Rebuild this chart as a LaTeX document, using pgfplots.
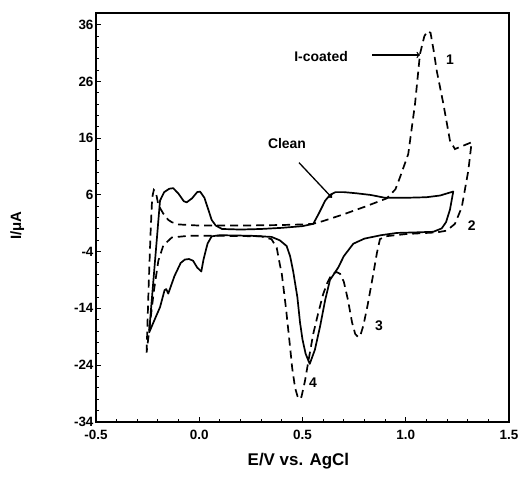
\documentclass[border=0pt]{standalone}
\usepackage{pgfplots}
\pgfplotsset{compat=1.18}
\usepackage{fontspec}
\setmainfont{Liberation Sans}
\begin{document}
\begin{tikzpicture}[x=1bp,y=1bp]
\useasboundingbox (-96,-55) rectangle (423,422);
\begin{axis}[
  at={(0,0)}, anchor=south west,
  scale only axis, width=413bp, height=409bp,
  xmin=-0.5, xmax=1.5, ymin=-34.05, ymax=38.1,
  xtick={-0.5,0,0.5,1,1.5},
  ytick={-34,-24,-14,-4,6,16,26,36},
  minor x tick num=4, minor y tick num=4,
  xtick pos=bottom, ytick pos=left,
  tick align=inside,
  major tick length=4.5bp, minor tick length=3bp,
  axis line style={line width=1.5bp},
  every tick/.style={line width=1bp, black},
  /pgf/number format/assume math mode=true,
  xticklabel style={font=\bfseries\fontsize{13.5}{15}\selectfont, yshift=-4.5bp, /pgf/number format/.cd, fixed, fixed zerofill, precision=1},
  yticklabel style={font=\bfseries\fontsize{13.5}{15}\selectfont, xshift=1bp},
  xlabel={E/V vs. AgCl},
  xlabel style={font=\bfseries\fontsize{17}{19}\selectfont, at={(axis description cs:0.49,0)}, anchor=center, yshift=-39bp},
  ylabel={I/μA},
  ylabel style={font=\bfseries\fontsize{15}{17}\selectfont, at={(axis description cs:-0.191,0.48)}, anchor=center},
  clip=false,
]
% Clean (solid)
\addplot[black, line width=1.7bp, line join=round] coordinates {
(-0.243,-18.3) (-0.215,-6) (-0.19,5.0) (-0.17,6.5) (-0.145,7.1) (-0.126,7.2)
(-0.10,6.2) (-0.075,4.9) (-0.061,4.7) (-0.035,5.4) (-0.01,6.5) (0.004,6.6)
(0.025,5.5) (0.045,3.3) (0.06,1.6) (0.08,0.6) (0.11,0.0) (0.20,-0.1)
(0.30,0.0) (0.40,0.2) (0.50,0.5) (0.552,0.9) (0.58,2.8) (0.61,5.0)
(0.633,6.0) (0.66,6.5) (0.70,6.5) (0.76,6.3) (0.83,6.0) (0.90,5.5)
(1.00,5.5) (1.10,5.6) (1.166,5.9) (1.23,6.6) (1.214,3.4) (1.195,1.2)
(1.174,0.1) (1.133,-0.5) (1.05,-0.6) (0.956,-0.7) (0.88,-1.1) (0.80,-1.7)
(0.746,-2.6) (0.70,-4.8) (0.673,-6.8) (0.633,-9.0) (0.61,-12.5) (0.585,-17.2)
(0.56,-21.3) (0.535,-23.8) (0.515,-22.0) (0.50,-19.5) (0.488,-16.5) (0.475,-12)
(0.455,-7.5) (0.44,-4.8) (0.423,-3.0) (0.39,-2.0) (0.35,-1.4) (0.25,-1.2)
(0.10,-1.1) (0.06,-1.3) (0.04,-2.6) (0.02,-5.5) (0.01,-7.5) (-0.01,-6.8)
(-0.03,-5.6) (-0.05,-5.3) (-0.07,-5.4) (-0.09,-6.0) (-0.12,-8.3) (-0.15,-11.4)
(-0.16,-10.6) (-0.168,-10.8) (-0.19,-13.8) (-0.215,-15.9) (-0.243,-18.3)
};
% I-coated (dashed)
\addplot[black, line width=1.7bp, dash pattern=on 8bp off 5bp] coordinates {
(-0.255,-21.8) (-0.245,-10) (-0.235,0) (-0.228,5.5) (-0.22,6.9) (-0.21,6.5)
(-0.198,4.2) (-0.174,2.7) (-0.15,1.6) (-0.133,1.2) (-0.10,0.8) (0.00,0.6)
(0.20,0.6) (0.40,0.7) (0.50,0.8) (0.55,0.9) (0.60,1.4) (0.70,2.6)
(0.80,3.9) (0.908,5.4) (0.95,7.0) (0.972,9.1) (1.012,13.2) (1.045,22.1)
(1.069,30.9) (1.09,34.0) (1.105,34.9) (1.12,34.6) (1.135,31.5) (1.15,27.9)
(1.182,22.1) (1.214,15.6) (1.238,14.1) (1.279,14.7) (1.319,15.3) (1.303,10.3)
(1.271,3.8) (1.238,0.9) (1.198,-0.3) (1.15,-0.6) (1.00,-0.9) (0.90,-1.3)
(0.875,-1.8) (0.86,-4.3) (0.84,-8.5) (0.815,-13.5) (0.795,-17.0) (0.78,-18.8)
(0.77,-19.1) (0.755,-18.5) (0.74,-16.5) (0.72,-12.5) (0.70,-9.3) (0.682,-7.9)
(0.665,-7.6) (0.641,-8.0) (0.62,-9.5) (0.60,-11.5) (0.575,-15.0) (0.552,-18.5)
(0.53,-23.0) (0.512,-26.8) (0.495,-29.6) (0.488,-30.0) (0.478,-29.8) (0.464,-28)
(0.45,-24.5) (0.44,-20.9) (0.42,-14.0) (0.40,-8.0) (0.39,-6.2) (0.375,-3.3)
(0.35,-1.8) (0.30,-1.3) (0.10,-1.2) (-0.05,-1.2) (-0.133,-1.5) (-0.174,-2.9)
(-0.198,-5.6) (-0.22,-11) (-0.255,-21.8)
};
\node[font=\bfseries\fontsize{14}{16}\selectfont] at (axis cs:0.59,30.5) {I-coated};
\draw[->, line width=1.3bp] (axis cs:0.837,30.7) -- (axis cs:1.069,30.7);
\node[font=\bfseries\fontsize{14}{16}\selectfont] at (axis cs:0.425,15.0) {Clean};
\draw[->, line width=1.3bp] (axis cs:0.483,11.7) -- (axis cs:0.643,5.5);
\node[font=\bfseries\fontsize{14}{16}\selectfont] at (axis cs:1.214,29.8) {1};
\node[font=\bfseries\fontsize{14}{16}\selectfont] at (axis cs:1.319,0.6) {2};
\node[font=\bfseries\fontsize{14}{16}\selectfont] at (axis cs:0.870,-17.1) {3};
\node[font=\bfseries\fontsize{14}{16}\selectfont] at (axis cs:0.551,-27.2) {4};
\end{axis}
\end{tikzpicture}
\end{document}
